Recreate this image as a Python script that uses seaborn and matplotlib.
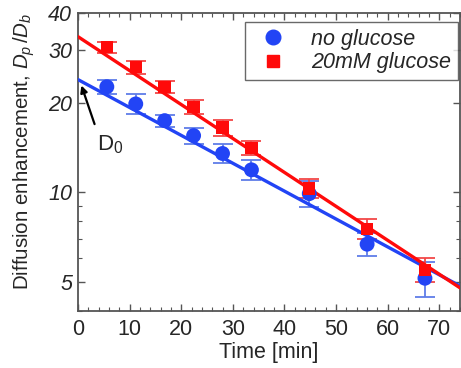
import seaborn as sns
import matplotlib.pyplot as plt
from matplotlib.lines import Line2D
from matplotlib.ticker import FixedLocator, NullFormatter, LogLocator, MultipleLocator

# data
time = [5.6, 11.2, 16.8, 22.4, 28.0, 33.6, 44.8, 56.0, 67.2]
no_glucose = [22.6, 19.8, 17.4, 15.5, 13.5, 11.9, 9.9, 6.7, 5.15]
no_glucose_err = [1.2, 1.5, 0.8, 1.0, 1.0, 0.9, 1.0, 0.6, 0.7]
glucose = [30.7, 26.3, 22.6, 19.3, 16.5, 14.1, 10.3, 7.55, 5.5]
glucose_err = [1.3, 1.35, 1.05, 1.05, 1.0, 0.8, 0.75, 0.6, 0.5]

# exponential fits (straight lines on log axis), end points
fit_time = [0, 74]
fit_no_glucose = [23.9, 4.85]
fit_glucose = [33.3, 4.78]

y_ticks = [5, 10, 20, 30, 40]

blue = "#2244f5"
red = "#ff0a0a"
fs = 15.5

sns.set_style("ticks")
plt.rcParams['font.family'] = ['Liberation Sans', 'DejaVu Sans']
plt.rcParams['mathtext.fontset'] = 'custom'
plt.rcParams['mathtext.rm'] = 'Liberation Sans'
plt.rcParams['mathtext.it'] = 'Liberation Sans:italic'

fig = plt.figure(figsize=(4.61, 3.68), dpi=100)
ax = fig.add_axes([0.169, 0.155, 0.829, 0.81])

# error bars
ax.errorbar(time, no_glucose, yerr=no_glucose_err, fmt="none", ecolor="#5f7de8",
            elinewidth=1.3, capsize=7, capthick=1.3, zorder=2)
ax.errorbar(time, glucose, yerr=glucose_err, fmt="none", ecolor="#f24848",
            elinewidth=1.3, capsize=7, capthick=1.3, zorder=2)

# fit lines
sns.lineplot(x=fit_time, y=fit_no_glucose, ax=ax, color=blue, linewidth=2.4, zorder=3)
sns.lineplot(x=fit_time, y=fit_glucose, ax=ax, color=red, linewidth=2.4, zorder=3)

# markers
sns.scatterplot(x=time, y=no_glucose, ax=ax, color=blue, marker="o", s=115,
                edgecolor="none", zorder=4)
sns.scatterplot(x=time, y=glucose, ax=ax, color=red, marker="s", s=80,
                edgecolor="none", zorder=5)

ax.set_yscale("log")
ax.set_xlim(0, 74)
ax.set_ylim(4, 40)

ax.yaxis.set_major_locator(FixedLocator(y_ticks))
ax.set_yticklabels([str(t) for t in y_ticks], fontstyle="italic")
ax.yaxis.set_minor_locator(LogLocator(base=10, subs=range(1, 10)))
ax.yaxis.set_minor_formatter(NullFormatter())
ax.xaxis.set_major_locator(MultipleLocator(10))
ax.xaxis.set_minor_locator(MultipleLocator(2))

ax.tick_params(which="both", direction="in", top=True, right=True,
               color="#555555", labelsize=fs)
ax.tick_params(which="major", length=5, width=1)
ax.tick_params(which="minor", length=3, width=0.8)
ax.tick_params(axis="x", pad=6)
ax.tick_params(axis="y", pad=4)
for sp in ax.spines.values():
    sp.set_color("#555555")
    sp.set_linewidth(1.3)

ax.set_xlabel("Time [min]", fontsize=fs, labelpad=1)
ax.set_ylabel("Diffusion enhancement, $D_p\\,/D_b$", fontsize=14.8)
ax.yaxis.set_label_coords(-0.108, 0.535)

# D0 annotation
ax.annotate("", xy=(0.5, 23.3), xytext=(3.4, 16.6),
            arrowprops=dict(arrowstyle="-|>", color="black", lw=1.6,
                            mutation_scale=10))
ax.text(3.6, 14.4, "D$_{\\mathregular{0}}$", fontsize=16, va="center", ha="left")

handles = [
    Line2D([], [], marker="o", color=blue, linestyle="none", markersize=10.5),
    Line2D([], [], marker="s", color=red, linestyle="none", markersize=8),
]
leg = ax.legend(handles, ["no glucose", "20mM glucose"], loc="upper right",
                bbox_to_anchor=(1.0, 0.975), frameon=True, fancybox=False,
                prop={"size": fs, "style": "italic"}, handletextpad=0.8,
                borderpad=0.3, labelspacing=0.1, borderaxespad=0.1,
                handlelength=2.0)
leg.get_frame().set_edgecolor("#444444")
leg.get_frame().set_linewidth(1.0)

fig.savefig("out.png", dpi=100)
